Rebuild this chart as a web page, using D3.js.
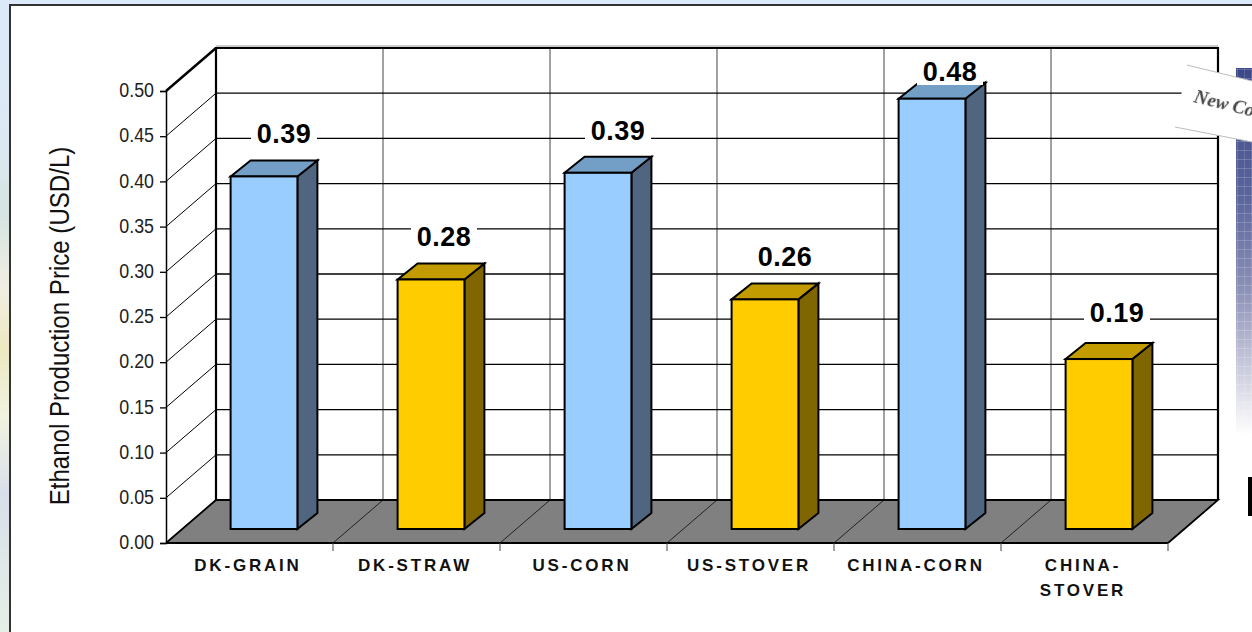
<!DOCTYPE html>
<html>
<head>
<meta charset="utf-8">
<title>Ethanol Production Price</title>
<script src="https://d3js.org/d3.v7.min.js"></script>
<style>
  html, body { margin: 0; padding: 0; background: #fff; overflow: hidden; }
  svg { display: block; }
</style>
</head>
<body>
<div id="chart"></div>
<script>
// Data
const categories = ["DK-GRAIN", "DK-STRAW", "US-CORN", "US-STOVER", "CHINA-CORN", "CHINA-STOVER"];
const categoryLines = [["DK-GRAIN"], ["DK-STRAW"], ["US-CORN"], ["US-STOVER"], ["CHINA-CORN"], ["CHINA-", "STOVER"]];
const values = [0.39, 0.276, 0.394, 0.254, 0.476, 0.188];
const valueLabels = ["0.39", "0.28", "0.39", "0.26", "0.48", "0.19"];
const barGroups = ["grain", "residue", "grain", "residue", "grain", "residue"];
const yTicks = [0, 0.05, 0.1, 0.15, 0.2, 0.25, 0.3, 0.35, 0.4, 0.45, 0.5];
const yTitle = "Ethanol Production Price (USD/L)";

const width = 1252, height = 632;

// 3D look: the back wall is the front plane shifted by this much
const depth = { x: 50, y: -43 };
const barDepth = { x: 20, y: -16 };
const barInset = { x: 14.5, y: -14 };

// Value labels were moved by hand in the original
const labelShiftX = [0, -7, 0, 0, -2, -2];
const labelShiftY = [0, 0, 0, 0, 0, -4];

const colors = {
  grain: { face: "#99ccff", top: "#739fc7", side: "#4f6580" },
  residue: { face: "#ffcc00", top: "#c29b00", side: "#806600" }
};

const svg = d3.select("#chart").append("svg")
  .attr("width", width)
  .attr("height", height);

const defs = svg.append("defs");

// Washed out slide background on the left and top
const bg = defs.append("linearGradient").attr("id", "slideBg")
  .attr("x1", 0).attr("y1", 0).attr("x2", 0).attr("y2", 1);
[[0, "#dbe9fa"], [0.2, "#dde9f5"], [0.34, "#d6e4e2"], [0.46, "#f2eee2"], [0.55, "#ece8c0"],
 [0.66, "#f1f3e0"], [0.78, "#d9dfea"], [1, "#e6efe6"]].forEach(s => {
  bg.append("stop").attr("offset", s[0]).attr("stop-color", s[1]);
});

// Blue plaid strip at the right edge, fading to white
const fade = defs.append("linearGradient").attr("id", "stripFade")
  .attr("x1", 0).attr("y1", 0).attr("x2", 0).attr("y2", 1);
[[0, "#3d4889"], [0.35, "#5a659c"], [0.6, "#8b90b6"], [0.8, "#c5c6da"], [1, "#ffffff"]].forEach(s => {
  fade.append("stop").attr("offset", s[0]).attr("stop-color", s[1]);
});
const plaid = defs.append("pattern").attr("id", "plaid")
  .attr("patternUnits", "userSpaceOnUse").attr("width", 7).attr("height", 9);
plaid.append("rect").attr("x", 5).attr("width", 1).attr("height", 9).attr("fill", "#fff").attr("opacity", 0.14);
plaid.append("rect").attr("y", 6).attr("width", 7).attr("height", 1).attr("fill", "#fff").attr("opacity", 0.18);

defs.append("filter").attr("id", "soft")
  .append("feGaussianBlur").attr("stdDeviation", 0.5);

svg.append("rect").attr("width", width).attr("height", height).attr("fill", "url(#slideBg)");
svg.append("rect").attr("x", 10).attr("y", 5).attr("width", width).attr("height", height + 10)
  .attr("fill", "#fff").attr("stroke", "#333").attr("stroke-width", 2);

// Scales work on the front plane of the chart
const y = d3.scaleLinear().domain([0, 0.5]).range([543, 91]);
const x = d3.scaleBand().domain(categories).range([166, 1168]).paddingInner(0.6).paddingOuter(0.3);
const boundaries = d3.range(categories.length + 1).map(i => x.range()[0] + i * x.step());

const x0 = x.range()[0], x1 = x.range()[1];

// Floor
svg.append("path")
  .attr("d", d3.line()([[x0, y(0)], [x0 + depth.x, y(0) + depth.y], [x1 + depth.x, y(0) + depth.y], [x1, y(0)]]) + "Z")
  .attr("fill", "#808080");

// Floor dividers and vertical lines on the back wall
svg.selectAll(".floor-div").data(boundaries.slice(1, -1)).enter().append("line")
  .attr("class", "floor-div")
  .attr("x1", d => d).attr("y1", y(0))
  .attr("x2", d => d + depth.x).attr("y2", y(0) + depth.y)
  .attr("stroke", "#222").attr("stroke-width", 1);
svg.selectAll(".back-v").data(boundaries.slice(1, -1)).enter().append("line")
  .attr("class", "back-v")
  .attr("x1", d => d + depth.x).attr("y1", y(0) + depth.y)
  .attr("x2", d => d + depth.x).attr("y2", y(0.5) + depth.y)
  .attr("stroke", "#444").attr("stroke-width", 1);

// Grid lines: side wall diagonal then across the back wall
svg.selectAll(".grid-side").data(yTicks.slice(1)).enter().append("line")
  .attr("class", "grid-side")
  .attr("x1", x0).attr("y1", d => y(d))
  .attr("x2", x0 + depth.x).attr("y2", d => y(d) + depth.y)
  .attr("stroke", "#000").attr("stroke-width", d => d === 0.5 ? 2.5 : 1);
svg.selectAll(".grid-back").data(yTicks.slice(1, -1)).enter().append("line")
  .attr("class", "grid-back")
  .attr("x1", x0 + depth.x).attr("y1", d => y(d) + depth.y)
  .attr("x2", x1 + depth.x + 1).attr("y2", d => y(d) + depth.y)
  .attr("stroke", "#000").attr("stroke-width", 1.3);

// Wall edges
svg.append("path")
  .attr("d", d3.line()([[x0 + depth.x, y(0) + depth.y], [x0 + depth.x, y(0.5) + depth.y], [x1 + depth.x, y(0.5) + depth.y], [x1 + depth.x, y(0) + depth.y]]))
  .attr("fill", "none").attr("stroke", "#000").attr("stroke-width", 2.2);
svg.append("line")
  .attr("x1", x0 + depth.x).attr("x2", x1 + depth.x)
  .attr("y1", y(0.5) + depth.y - 2).attr("y2", y(0.5) + depth.y - 2)
  .attr("stroke", "#999").attr("stroke-width", 1);
svg.append("path")
  .attr("d", d3.line()([[x0, y(0)], [x0 + depth.x, y(0) + depth.y], [x1 + depth.x, y(0) + depth.y], [x1, y(0)]]))
  .attr("fill", "none").attr("stroke", "#000").attr("stroke-width", 1.8);

// Y axis, labels squeezed to look like the narrow font of the original
const yAxis = d3.axisLeft(y)
  .tickValues(yTicks)
  .tickFormat(d3.format(".2f"))
  .tickSize(6);
const yG = svg.append("g")
  .attr("transform", `translate(${x0},0)`)
  .call(yAxis);
yG.select(".domain").attr("stroke", "#000").attr("stroke-width", 1.5);
yG.selectAll("line").attr("stroke", "#000").attr("stroke-width", 1.3);
yG.selectAll("text")
  .attr("x", 0)
  .attr("y", -1)
  .attr("transform", "translate(-12,0) scale(0.85,1)")
  .attr("font-family", "'Liberation Sans', Arial, sans-serif")
  .attr("font-size", 21).attr("fill", "#222");

// Bottom axis line and ticks
svg.append("line")
  .attr("x1", x0).attr("x2", x1).attr("y1", y(0)).attr("y2", y(0))
  .attr("stroke", "#000").attr("stroke-width", 1.8);
svg.selectAll(".x-tick").data(boundaries.slice(1)).enter().append("line")
  .attr("class", "x-tick")
  .attr("x1", d => d).attr("x2", d => d)
  .attr("y1", y(0)).attr("y2", y(0) + 8)
  .attr("stroke", "#444").attr("stroke-width", 1);

// Bars
const barData = categories.map((c, i) => ({ c, i, value: values[i], label: valueLabels[i], color: colors[barGroups[i]] }));

const bars = svg.selectAll(".bar").data(barData).enter().append("g").attr("class", "bar")
  .attr("stroke", "#000").attr("stroke-width", 2).attr("stroke-linejoin", "miter");

const barLeft = d => x(d.c) + barInset.x;
const barRight = d => barLeft(d) + x.bandwidth();
const barBase = y(0) + barInset.y;
const barTop = d => y(d.value) + barInset.y;

bars.append("path")
  .attr("fill", d => d.color.side)
  .attr("d", d => d3.line()([[barRight(d), barBase], [barRight(d) + barDepth.x, barBase + barDepth.y], [barRight(d) + barDepth.x, barTop(d) + barDepth.y], [barRight(d), barTop(d)]]) + "Z");
bars.append("path")
  .attr("fill", d => d.color.top)
  .attr("d", d => d3.line()([[barLeft(d), barTop(d)], [barLeft(d) + barDepth.x, barTop(d) + barDepth.y], [barRight(d) + barDepth.x, barTop(d) + barDepth.y], [barRight(d), barTop(d)]]) + "Z");
bars.append("rect")
  .attr("fill", d => d.color.face)
  .attr("x", barLeft)
  .attr("y", barTop)
  .attr("width", x.bandwidth())
  .attr("height", d => barBase - barTop(d));

// Value labels with white box that cuts the grid lines
const labelY = d => Math.max(barTop(d) - 33, 81) + labelShiftY[d.i];
const labelX = d => barLeft(d) + x.bandwidth() / 2 + barDepth.x + labelShiftX[d.i];
svg.selectAll(".label-bg").data(barData).enter().append("rect")
  .attr("class", "label-bg")
  .attr("x", d => labelX(d) - 33).attr("y", d => labelY(d) - 23)
  .attr("width", 66).attr("height", 27)
  .attr("fill", "#fff");
svg.selectAll(".value-label").data(barData).enter().append("text")
  .attr("class", "value-label")
  .attr("x", labelX).attr("y", labelY)
  .attr("text-anchor", "middle")
  .attr("font-family", "'Liberation Sans', Arial, sans-serif")
  .attr("font-weight", "bold").attr("font-size", 27).attr("letter-spacing", 0.5).attr("fill", "#000")
  .text(d => d.label);

// Category labels
const catText = svg.selectAll(".cat").data(categoryLines).enter().append("text")
  .attr("class", "cat")
  .attr("text-anchor", "middle")
  .attr("font-family", "'Liberation Sans', Arial, sans-serif")
  .attr("font-weight", "bold").attr("font-size", 17)
  .attr("letter-spacing", 2.8).attr("fill", "#111");
catText.selectAll("tspan").data((d, i) => d.map(t => ({ t, i }))).enter().append("tspan")
  .attr("x", d => x(categories[d.i]) + x.bandwidth() / 2 - 1.5)
  .attr("y", (d, j) => 571 + j * 24.5)
  .text(d => d.t);

// Y title
svg.append("text")
  .attr("transform", "translate(69,326) rotate(-90) scale(0.86,1)")
  .attr("text-anchor", "middle")
  .attr("font-family", "'Liberation Sans', Arial, sans-serif")
  .attr("font-size", 28).attr("fill", "#111")
  .text(yTitle);

// Leftovers of the slide at the right edge
svg.append("rect").attr("x", 1236).attr("y", 68).attr("width", 16).attr("height", 367).attr("fill", "url(#stripFade)");
svg.append("rect").attr("x", 1236).attr("y", 68).attr("width", 16).attr("height", 367).attr("fill", "url(#plaid)");
svg.append("rect").attr("x", 1248).attr("y", 477).attr("width", 4).attr("height", 39).attr("fill", "#000");

svg.append("path")
  .attr("d", d3.line()([[1187, 65], [1252, 81], [1252, 142], [1175, 127]]) + "Z")
  .attr("fill", "#fff");
svg.append("line").attr("x1", 1187).attr("y1", 65).attr("x2", 1252).attr("y2", 81).attr("stroke", "#bbb").attr("stroke-width", 1);
svg.append("line").attr("x1", 1175).attr("y1", 127).attr("x2", 1252).attr("y2", 142).attr("stroke", "#bbb").attr("stroke-width", 1);
svg.append("text")
  .attr("transform", "translate(1193,102) rotate(14)")
  .attr("font-family", "'Liberation Serif', serif")
  .attr("font-style", "italic").attr("font-weight", "bold")
  .attr("font-size", 19).attr("fill", "#444")
  .attr("filter", "url(#soft)")
  .text("New Co");
</script>
</body>
</html>
